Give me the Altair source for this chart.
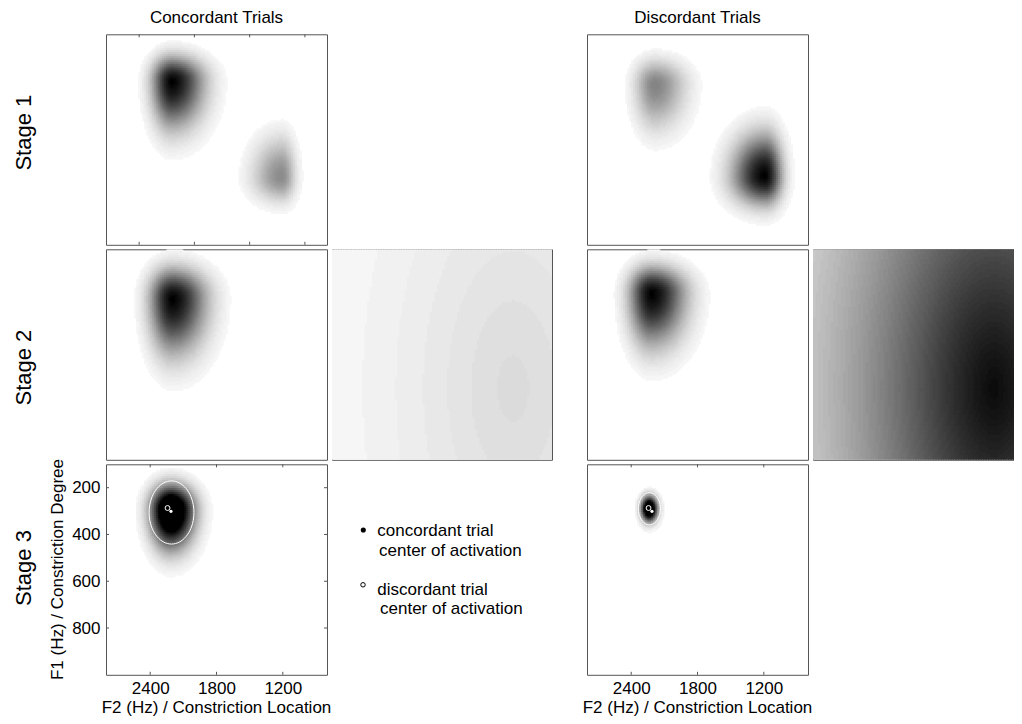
import altair as alt
import numpy as np
import pandas as pd

# ---------------- axes (Hz) ----------------
F2_RANGE = [800, 2800]          # x, shown reversed
F1_RANGE = [100, 1000]          # y, 100 at top
F2_TICKS = [2400, 1800, 1200]
F2_STAGE1_TICKS = [2500, 2000, 1500, 1000]
F1_TICKS = [200, 400, 600, 800]

# ---------------- activation blobs ----------------
BLOB_PANEL = ["c1", "c1", "d1", "d1", "c2", "d2", "c3", "d3"]
BLOB_F2 = [2205, 1210, 2187, 1190, 2200, 2216, 2215, 2238]
BLOB_F1 = [300, 710, 314, 706, 310, 288, 295, 290]
BLOB_PEAK = [1.0, 0.42, 0.45, 1.0, 1.0, 1.0, 1.6, 1.6]
BLOB_S_HIGHF2 = [114, 169, 116, 187, 130, 128, 113, 46]   # spread toward left (higher F2)
BLOB_S_LOWF2 = [185, 80, 179, 99, 196, 196, 132, 47]      # spread toward right
BLOB_S_LOWF1 = [65, 107, 65, 112, 79, 70, 64, 33]         # spread upward
BLOB_S_HIGHF1 = [126, 67, 120, 78, 148, 140, 100, 35]     # spread downward

# ---------------- side (stage 2) fields, relative coordinates ----------------
SIDE_PEAK = [0.125, 0.97]
SIDE_U = [0.823, 0.823]
SIDE_W = [0.662, 0.662]
SIDE_A = [0.62, 0.62]
SIDE_B = [1.36, 1.36]

# ---------------- stage 3 contours and centres ----------------
ELL_PANEL = ["c3", "d3"]
ELL_F2 = [2207, 2235]
ELL_F1 = [306, 290]
ELL_RF2 = [203, 100]
ELL_RF1 = [135, 69]

CENTER_KIND = ["concordant", "discordant"]
CENTER_F2 = [2212, 2243]
CENTER_F1 = [301, 287]

COL_TITLES = ["Concordant Trials", "Discordant Trials"]
ROW_TITLES = ["Stage 1", "Stage 2", "Stage 3"]
X_TITLE = "F2 (Hz) / Constriction Location"
Y_TITLE = "F1 (Hz) / Constriction Degree"
LEGEND_LINES = ["concordant trial", "center of activation", "discordant trial", "center of activation"]

FONT = "Liberation Sans"
FRAME = "#555555"
W_MAIN, W_SIDE, W_GAP, H = 221, 220, 25, 210.5
ORIGIN_X, ORIGIN_Y = 106, 34.3          # page position of the first panel
PAGE_W, PAGE_H = 1006, 708               # drawable area inside the 8px page margin

xs = alt.Scale(domain=F2_RANGE, reverse=True, zero=False, nice=False)
ys = alt.Scale(domain=F1_RANGE, reverse=True, zero=False, nice=False)
us = alt.Scale(domain=[0, 1], zero=False, nice=False)
ws = alt.Scale(domain=[0, 1], reverse=True, zero=False, nice=False)
cs = alt.Scale(domain=[0, 1], range=["#ffffff", "#000000"])

NX, NY = 110, 105
DX = (F2_RANGE[1] - F2_RANGE[0]) / NX
DY = (F1_RANGE[1] - F1_RANGE[0]) / NY
OVER = 1.5


def blob_grid(panel):
    xl = F2_RANGE[1] - DX * np.arange(NX)
    yt = F1_RANGE[0] + DY * np.arange(NY)
    XL, YT = np.meshgrid(xl, yt)
    X, Y = XL - DX / 2, YT + DY / 2
    V = np.zeros_like(X)
    for i, p in enumerate(BLOB_PANEL):
        if p != panel:
            continue
        ddx = X - BLOB_F2[i]
        ddy = Y - BLOB_F1[i]
        sx = np.where(ddx > 0, BLOB_S_HIGHF2[i], BLOB_S_LOWF2[i])
        sy = np.where(ddy < 0, BLOB_S_LOWF1[i], BLOB_S_HIGHF1[i])
        V += BLOB_PEAK[i] * np.exp(-0.5 * ((ddx / sx) ** 2 + (ddy / sy) ** 2))
    keep = V >= 0.03
    V = np.round(np.clip(V, 0, 1) * 63) / 63
    return pd.DataFrame({"x": np.round(XL[keep], 2), "y": np.round(YT[keep], 2),
                         "v": np.round(V[keep], 3)})


SNX, SNY = 88, 84


def side_grid(k):
    ul = np.arange(SNX) / SNX
    wt = np.arange(SNY) / SNY
    UL, WT = np.meshgrid(ul, wt)
    U, Wc = UL + 0.5 / SNX, WT + 0.5 / SNY
    d = np.sqrt(((U - SIDE_U[k]) / SIDE_A[k]) ** 2 + ((Wc - SIDE_W[k]) / SIDE_B[k]) ** 2)
    V = SIDE_PEAK[k] * np.exp(-d ** 1.4)
    V = np.round(np.clip(V, 0, 1) * 63) / 63
    keep = V > 0
    return pd.DataFrame({"u": np.round(UL[keep], 4), "w": np.round(WT[keep], 4),
                         "v": np.round(V[keep], 3)})


def heat_layer(panel, xaxis=None, yaxis=None):
    df = blob_grid(panel)
    return alt.Chart(df).transform_calculate(
        x2=f"datum.x - {DX * OVER}", y2=f"datum.y + {DY * OVER}"
    ).mark_rect(clip=True, strokeWidth=0).encode(
        x=alt.X("x:Q", scale=xs, axis=xaxis),
        x2="x2:Q",
        y=alt.Y("y:Q", scale=ys, axis=yaxis),
        y2="y2:Q",
        color=alt.Color("v:Q", scale=cs, legend=None),
    )


def side_layer(k):
    df = side_grid(k)
    return alt.Chart(df).transform_calculate(
        u2=f"datum.u + {OVER / SNX}", w2=f"datum.w + {OVER / SNY}"
    ).mark_rect(clip=True, strokeWidth=0).encode(
        x=alt.X("u:Q", scale=us, axis=None),
        x2="u2:Q",
        y=alt.Y("w:Q", scale=ws, axis=None),
        y2="w2:Q",
        color=alt.Color("v:Q", scale=cs, legend=None),
    )


def xticks(values, xaxis=None):
    df = pd.DataFrame({"t": values})
    return [
        alt.Chart(df).mark_rule(color=FRAME, strokeWidth=1).encode(
            x=alt.X("t:Q", scale=xs, axis=xaxis), y=alt.value(0), y2=alt.value(3)),
        alt.Chart(df).mark_rule(color=FRAME, strokeWidth=1).encode(
            x=alt.X("t:Q", scale=xs, axis=xaxis), y=alt.value(H - 3), y2=alt.value(H)),
    ]


def yticks(values, yaxis=None):
    df = pd.DataFrame({"t": values})
    return [
        alt.Chart(df).mark_rule(color=FRAME, strokeWidth=1).encode(
            y=alt.Y("t:Q", scale=ys, axis=yaxis), x=alt.value(0), x2=alt.value(3)),
        alt.Chart(df).mark_rule(color=FRAME, strokeWidth=1).encode(
            y=alt.Y("t:Q", scale=ys, axis=yaxis), x=alt.value(W_MAIN - 3), x2=alt.value(W_MAIN)),
    ]


def text_layer(label, x, y, size=17, angle=0, align="center", baseline="alphabetic"):
    kw = dict(font=FONT, fontSize=size, align=align, baseline=baseline, color="black")
    if angle:
        kw["angle"] = angle
    return alt.Chart(pd.DataFrame({"label": [label]})).mark_text(**kw).encode(
        text="label:N", x=alt.value(x), y=alt.value(y))


def stage3_marks(panel, xaxis=None, yaxis=None):
    i = ELL_PANEL.index(panel)
    t = np.linspace(0, 2 * np.pi, 73)
    ell = pd.DataFrame({"f2": ELL_F2[i] + ELL_RF2[i] * np.cos(t),
                        "f1": ELL_F1[i] + ELL_RF1[i] * np.sin(t),
                        "o": np.arange(len(t))})
    cen = pd.DataFrame({"kind": CENTER_KIND, "f2": CENTER_F2, "f1": CENTER_F1})
    enc = dict(x=alt.X("f2:Q", scale=xs, axis=xaxis), y=alt.Y("f1:Q", scale=ys, axis=yaxis))
    line = alt.Chart(ell).mark_line(color="white", strokeWidth=1, clip=True).encode(
        order="o:Q", **enc)
    ring = alt.Chart(cen).transform_filter("datum.kind == 'discordant'").mark_point(
        shape="circle", filled=False, color="white", size=24, strokeWidth=1, opacity=1).encode(**enc)
    dot = alt.Chart(cen).transform_filter("datum.kind == 'concordant'").mark_point(
        shape="circle", filled=True, color="white", size=10, opacity=1).encode(**enc)
    return [line, ring, dot]


xaxis3 = alt.Axis(values=F2_TICKS, format="d", ticks=False, tickSize=0, domain=False, grid=False,
                  labelFontSize=17, labelFont=FONT, labelColor="black", labelPadding=6,
                  title=None, labelFlush=False, labelOverlap=False)
yaxis3 = alt.Axis(values=F1_TICKS, format="d", ticks=False, tickSize=0, domain=False, grid=False,
                  labelFontSize=17, labelFont=FONT, labelColor="black", labelPadding=6,
                  title=None, labelFlush=False, labelOverlap=False)

STAGE_Y = [98.4, 118.3, 103.7]
X_TITLE_Y = H + 38.4

cm1 = alt.layer(heat_layer("c1"), *xticks(F2_STAGE1_TICKS),
                text_layer(COL_TITLES[0], W_MAIN / 2, -11.8),
                text_layer(ROW_TITLES[0], -75, STAGE_Y[0], size=22, angle=270)
                ).properties(width=W_MAIN, height=H)
cm2 = alt.layer(heat_layer("c2"),
                text_layer(ROW_TITLES[1], -75, STAGE_Y[1], size=22, angle=270)
                ).properties(width=W_MAIN, height=H)
cm3 = alt.layer(heat_layer("c3", xaxis=xaxis3, yaxis=yaxis3),
                *stage3_marks("c3", xaxis=xaxis3, yaxis=yaxis3),
                *xticks(F2_TICKS, xaxis=xaxis3), *yticks(F1_TICKS, yaxis=yaxis3),
                text_layer(ROW_TITLES[2], -75, STAGE_Y[2], size=22, angle=270),
                text_layer(Y_TITLE, -43.5, H / 2, angle=270),
                text_layer(X_TITLE, W_MAIN / 2, X_TITLE_Y)
                ).properties(width=W_MAIN, height=H)

dm1 = alt.layer(heat_layer("d1"),
                text_layer(COL_TITLES[1], W_MAIN / 2, -11.8)
                ).properties(width=W_MAIN, height=H)
dm2 = alt.layer(heat_layer("d2")).properties(width=W_MAIN, height=H)
dm3 = alt.layer(heat_layer("d3", xaxis=xaxis3), *stage3_marks("d3", xaxis=xaxis3),
                *xticks(F2_TICKS, xaxis=xaxis3),
                text_layer(X_TITLE, W_MAIN / 2, X_TITLE_Y)
                ).properties(width=W_MAIN, height=H)

cs2 = alt.layer(side_layer(0)).properties(width=W_SIDE, height=H)
ds2 = alt.layer(side_layer(1)).properties(width=W_SIDE, height=H)

noview = alt.ViewBackground(strokeOpacity=0)


def blank(w):
    return alt.Chart(pd.DataFrame({"a": [0]})).mark_point(opacity=0).encode(
        x=alt.value(0), y=alt.value(0)).properties(width=w, height=H, view=noview)


leg_df = pd.DataFrame({"kind": CENTER_KIND})
legend = alt.layer(
    alt.Chart(leg_df).transform_filter("datum.kind == 'concordant'").mark_point(
        shape="circle", filled=True, color="black", size=26, opacity=1).encode(
        x=alt.value(31.3), y=alt.value(65.7)),
    alt.Chart(leg_df).transform_filter("datum.kind == 'discordant'").mark_point(
        shape="circle", filled=False, color="black", size=20, strokeWidth=1, opacity=1).encode(
        x=alt.value(31), y=alt.value(120.5)),
    text_layer(LEGEND_LINES[0], 45.3, 72, align="left"),
    text_layer(LEGEND_LINES[1], 47, 91.4, align="left"),
    text_layer(LEGEND_LINES[2], 45.3, 131, align="left"),
    text_layer(LEGEND_LINES[3], 48, 149.4, align="left"),
).properties(width=W_SIDE, height=H, view=noview)

cells = [
    cm1, blank(W_SIDE), blank(W_GAP), dm1, blank(W_SIDE),
    cm2, cs2, blank(W_GAP), dm2, ds2,
    cm3, legend, blank(W_GAP), dm3, blank(W_SIDE),
]

pad_l, pad_t = ORIGIN_X - 8, ORIGIN_Y - 8
chart = alt.concat(*cells, columns=5, spacing=alt.RowColnumber(row=4, column=5),
                   bounds="flush").properties(
    autosize=alt.AutoSizeParams(type="none"),
    padding={"left": pad_l, "top": pad_t, "right": PAGE_W - pad_l, "bottom": PAGE_H - pad_t},
).configure(font=FONT).configure_view(stroke=FRAME, strokeWidth=1)

chart.save("out.html", embed_options={"renderer": "svg", "actions": False})
